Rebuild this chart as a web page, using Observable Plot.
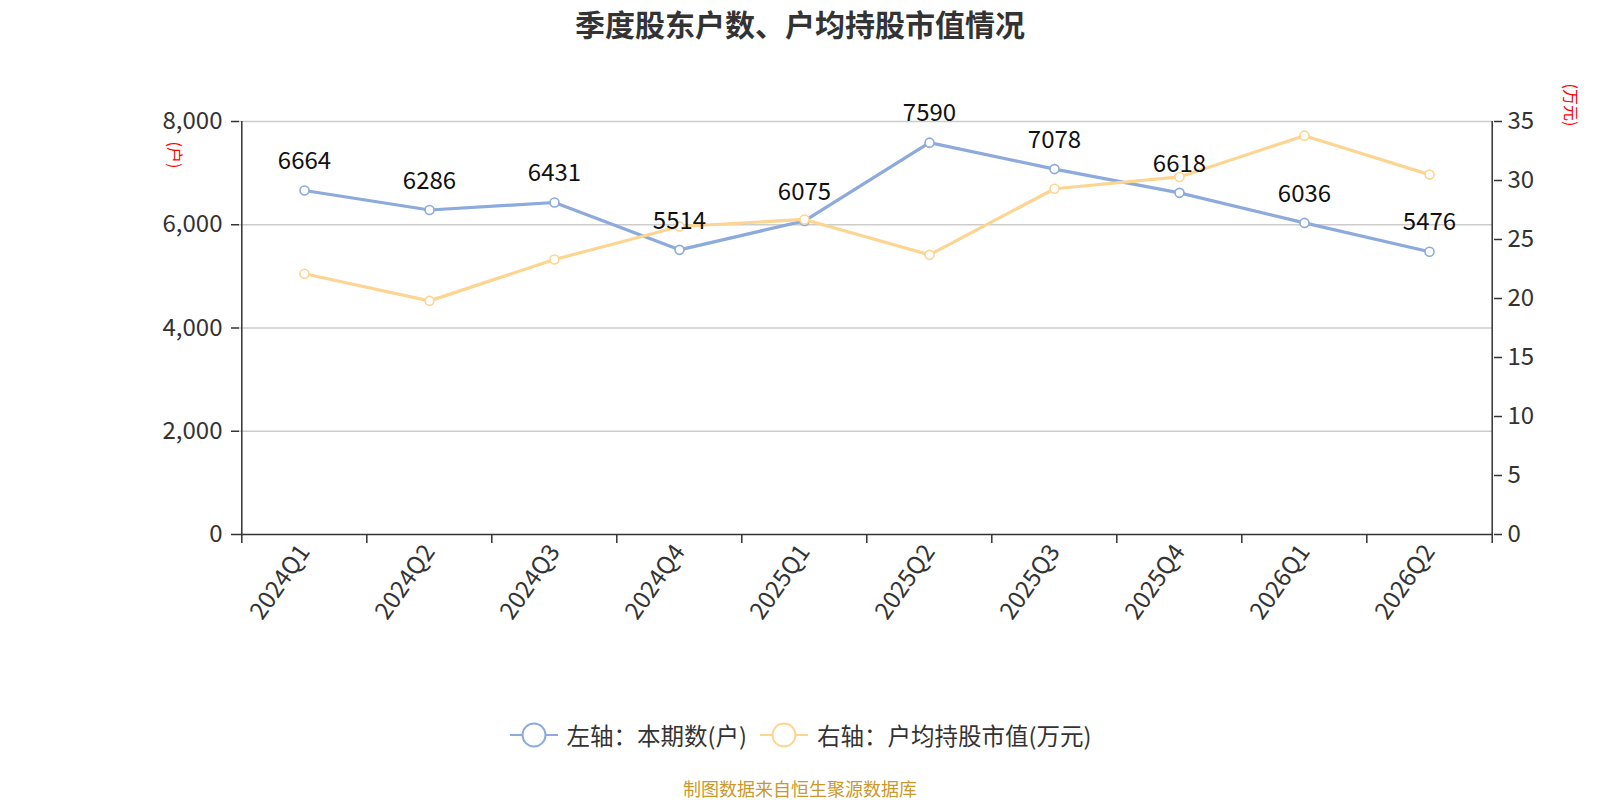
<!DOCTYPE html>
<html>
<head>
<meta charset="utf-8">
<script src="https://cdn.jsdelivr.net/npm/d3@7"></script>
<script src="https://cdn.jsdelivr.net/npm/@observablehq/plot@0.6"></script>
<style>
  body { margin: 0; background: #fff; font-family: "Noto Sans CJK SC", "Noto Sans", sans-serif; }
  #wrap { position: relative; width: 1600px; height: 800px; }
  #title { height: 46px; line-height: 46px; text-align: center; font-size: 30px; font-weight: bold; color: #333; }
  #legend { margin-top: 29px; height: 40px; display: flex; justify-content: center; align-items: center; font-size: 23.5px; color: #333; }
  .item { display: flex; align-items: center; margin: 0 6px; }
  .item svg { margin-right: 8px; }
  #caption { margin-top: 18px; height: 30px; line-height: 30px; text-align: center; font-size: 18px; color: #c9992e; }
  .unit { position: absolute; color: red; font-size: 16px; transform: translate(-50%, -50%) rotate(90deg); white-space: nowrap; }
</style>
</head>
<body>
<div id="wrap">
  <div id="title">季度股东户数、户均持股市值情况</div>
  <div id="chart"></div>
  <div id="legend"></div>
  <div id="caption">制图数据来自恒生聚源数据库</div>
  <div class="unit" style="left:176px; top:155px;">(户)</div>
  <div class="unit" style="left:1572px; top:105px;">(万元)</div>
</div>
<script>
const quarters = ["2024Q1","2024Q2","2024Q3","2024Q4","2025Q1","2025Q2","2025Q3","2025Q4","2026Q1","2026Q2"];
const holders = [6664, 6286, 6431, 5514, 6075, 7590, 7078, 6618, 6036, 5476];
const avgValue = [22.1, 19.8, 23.3, 26.1, 26.7, 23.7, 29.3, 30.3, 33.8, 30.5];
const leftTicks = [0, 2000, 4000, 6000, 8000];
const rightTicks = [0, 5, 10, 15, 20, 25, 30, 35];
const seriesNames = ["左轴：本期数(户)", "右轴：户均持股市值(万元)"];
const colors = ["#8caadb", "#fdd592"];

const leftMax = 8000, rightMax = 35;
const k = leftMax / rightMax;
const W = 1600, H = 640;
const mL = 239, mR = 107, mT = 75, mB = 152;
const step = (W - mL - mR) / quarters.length;

const rows = quarters.map((q, i) => ({q, holders: holders[i], avg: avgValue[i], avgScaled: avgValue[i] * k}));

const font = "'Noto Sans CJK SC', 'Noto Sans', sans-serif";

const chart = Plot.plot({
  width: W, height: H,
  marginLeft: mL, marginRight: mR, marginTop: mT, marginBottom: mB,
  style: {fontFamily: font, background: "#fff", overflow: "visible"},
  x: {type: "point", domain: quarters, padding: 0.5},
  y: {domain: [0, leftMax]},
  marks: [
    Plot.ruleY(leftTicks.filter(d => d > 0), {stroke: "#cccccc", strokeWidth: 1.3}),
    Plot.ruleX([quarters[0]], {dx: -step / 2, stroke: "#333", strokeWidth: 1.5}),
    Plot.ruleX([quarters[quarters.length - 1]], {dx: step / 2, stroke: "#333", strokeWidth: 1.5}),
    Plot.ruleY([0], {stroke: "#333", strokeWidth: 1.5}),
    Plot.axisY({anchor: "left", ticks: leftTicks, tickFormat: d3.format(","), tickSize: 8, tickPadding: 9, fontSize: 24, color: "#333", stroke: "#333", strokeWidth: 1.5, label: null}),
    Plot.axisY({anchor: "right", ticks: rightTicks.map(v => v * k), tickFormat: d => String(Math.round(d / k)), tickSize: 8, tickPadding: 6, fontSize: 24, color: "#333", stroke: "#333", strokeWidth: 1.5, label: null}),
    Plot.axisX({ticks: quarters, tickSize: 9, fill: "none", stroke: "#333", strokeWidth: 1.5, dx: -step / 2, label: null}),
    Plot.axisX({ticks: [quarters[quarters.length - 1]], tickSize: 9, fill: "none", stroke: "#333", strokeWidth: 1.5, dx: step / 2, label: null}),
    Plot.axisX({ticks: quarters, tickSize: 0, tickPadding: 13, tickRotate: -55, fontSize: 24, fill: "#333", label: null}),
    Plot.line(rows, {x: "q", y: "holders", stroke: colors[0], strokeWidth: 3.2}),
    Plot.dot(rows, {x: "q", y: "holders", r: 4.5, fill: "#fff", stroke: colors[0], strokeWidth: 1.6}),
    Plot.line(rows, {x: "q", y: "avgScaled", stroke: colors[1], strokeWidth: 3.2}),
    Plot.dot(rows, {x: "q", y: "avgScaled", r: 4.5, fill: "#fff", stroke: colors[1], strokeWidth: 1.6}),
    Plot.text(rows, {x: "q", y: "holders", text: d => String(d.holders), dy: -29, fontSize: 24, fill: "#111"})
  ]
});
document.getElementById("chart").appendChild(chart);

const legend = d3.select("#legend");
seriesNames.forEach((name, i) => {
  const item = legend.append("div").attr("class", "item");
  const s = item.append("svg").attr("width", 50).attr("height", 30);
  s.append("line").attr("x1", 1).attr("x2", 49).attr("y1", 15).attr("y2", 15).attr("stroke", colors[i]).attr("stroke-width", 2);
  s.append("circle").attr("cx", 25).attr("cy", 15).attr("r", 11.5).attr("fill", "#fff").attr("stroke", colors[i]).attr("stroke-width", 2);
  item.append("span").text(name);
});
</script>
</body>
</html>
